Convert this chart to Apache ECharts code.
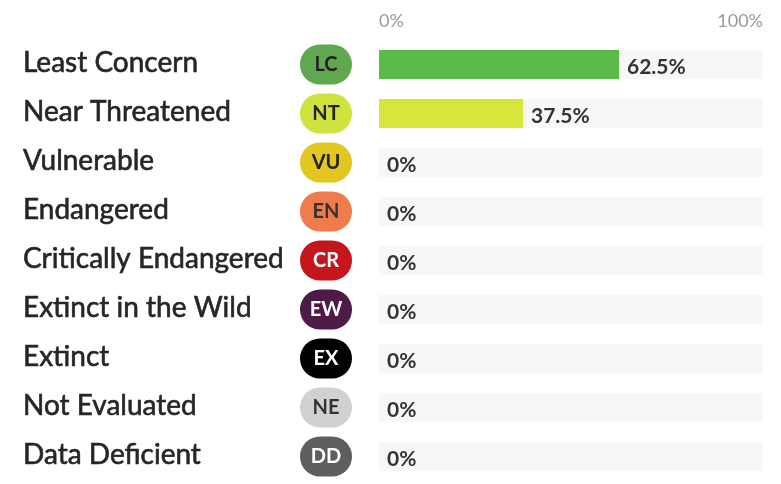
<!DOCTYPE html>
<html>
<head>
<meta charset="utf-8">
<script src="https://cdn.jsdelivr.net/npm/echarts@6/dist/echarts.min.js"></script>
<style>
  html, body { margin: 0; padding: 0; background: #fff; }
  #chart { width: 781px; height: 484px; }
</style>
</head>
<body>
<div id="chart"></div>
<script>
var categories = ['Least Concern', 'Near Threatened', 'Vulnerable', 'Endangered', 'Critically Endangered',
  'Extinct in the Wild', 'Extinct', 'Not Evaluated', 'Data Deficient'];
var codes = ['LC', 'NT', 'VU', 'EN', 'CR', 'EW', 'EX', 'NE', 'DD'];
var values = [62.5, 37.5, 0, 0, 0, 0, 0, 0, 0];
var badgeColors = ['#5fa84f', '#cfe23d', '#e2c621', '#ef7c4c', '#c4161c', '#4e1a47', '#000000', '#d1d1d1', '#5e5e5e'];
var badgeText = ['#222', '#222', '#222', '#333', '#fff', '#fff', '#fff', '#333', '#fff'];
var barColors = ['#5bbb48', '#d6e63a', '#e2c621', '#ef7c4c', '#c4161c', '#4e1a47', '#000000', '#d1d1d1', '#5e5e5e'];
var xTicks = [0, 100];

var myChart = echarts.init(document.getElementById('chart'));

// rich styles for each badge
var rich = {
  name: {
    width: 277, fontSize: 28, color: '#262626', fontFamily: 'Lato', align: 'left',
    textBorderColor: '#262626', textBorderWidth: 0.6, padding: [0, 0, 4, 0]
  }
};
codes.forEach(function (c, i) {
  rich['b' + i] = {
    width: 52, height: 40, borderRadius: 22, align: 'center',
    backgroundColor: badgeColors[i], color: badgeText[i],
    fontSize: 20, fontWeight: 'bold', fontFamily: 'Lato'
  };
});

var option = {
  animation: false,
  grid: { left: 379, right: 18, top: 40, bottom: 3 },
  xAxis: {
    type: 'value',
    position: 'top',
    min: xTicks[0],
    max: xTicks[1],
    interval: 100,
    axisLine: { show: false },
    axisTick: { show: false },
    splitLine: { show: false },
    axisLabel: {
      formatter: '{value}%',
      color: '#9a9a9a',
      fontSize: 18,
      fontFamily: 'Lato',
      margin: 10,
      alignMinLabel: 'left',
      alignMaxLabel: 'right'
    }
  },
  yAxis: {
    type: 'category',
    inverse: true,
    data: categories,
    axisLine: { show: false },
    axisTick: { show: false },
    axisLabel: {
      align: 'left',
      margin: 356,
      formatter: function (v, i) {
        return '{name|' + v + '}{b' + i + '|' + codes[i] + '}';
      },
      rich: rich
    }
  },
  series: [{
    type: 'bar',
    barWidth: 29,
    showBackground: true,
    backgroundStyle: { color: '#f8f7f6' },
    data: values.map(function (v, i) {
      return { value: v, itemStyle: { color: barColors[i] } };
    }),
    label: {
      show: true,
      position: 'right',
      distance: 8,
      offset: [0, 3],
      formatter: '{c}%',
      fontSize: 21,
      fontWeight: 'bold',
      fontFamily: 'Lato',
      color: '#333'
    }
  }]
};

myChart.setOption(option);
window.addEventListener('resize', function () {
  myChart.resize();
});
</script>
</body>
</html>
